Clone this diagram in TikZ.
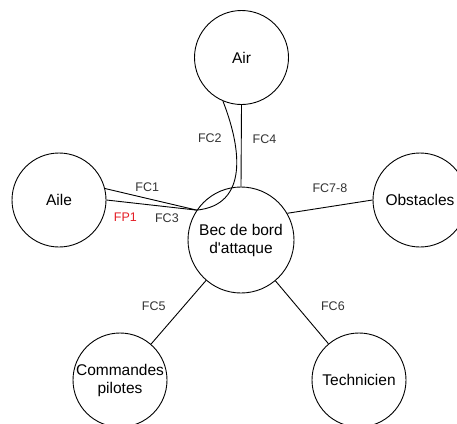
\documentclass[tikz,border=0pt]{standalone}
\usepackage{fontspec}
\newfontfamily\arialfont{Liberation Sans}
\definecolor{fpred}{RGB}{228,30,38}
\begin{document}
\begin{tikzpicture}[x=1pt, y=-1pt, font=\arialfont\fontsize{15.5}{18}\selectfont, line width=0.9pt,
    elem/.style={draw, circle, minimum size=94pt, inner sep=0pt, align=center},
    fc/.style={font=\arialfont\fontsize{12.5}{14}\selectfont, text=black!80, inner sep=1pt}]
    \useasboundingbox (0, 0) rectangle (457, 423);

    \node (air) [elem] at (241.5, 57.5) {Air};
    \node (aile) [elem] at (59, 200) {Aile};
    \node (bec) [elem, minimum size=106pt] at (241, 240) {Bec de bord\\d'attaque};
    \node (obst) [elem] at (420, 200) {Obstacles};
    \node (cmd) [elem] at (120, 380) {Commandes\\pilotes};
    \node (tech) [elem] at (359, 380) {Technicien};

    \coordinate (j) at (bec.146);

    \draw (aile.14) -- (j) node[fc, pos=0.46, above=5pt] {FC1};
    \draw (aile.east) -- (j) node[fc, pos=0.21, below=9pt, text=fpred] {FP1}
        node[fc, pos=0.67, below=6pt] {FC3};
    \draw (air.-113) .. controls (242, 150) and (248, 205) .. (j)
        node[fc, pos=0.25, left=11pt] {FC2};
    \draw (air.south) -- (bec.north) node[fc, pos=0.42, right=10pt] {FC4};
    \draw (bec.30) -- (obst.west) node[fc, midway, above=13pt] {FC7-8};
    \draw (bec) -- (cmd) node[fc, pos=0.4, left=17pt] {FC5};
    \draw (bec) -- (tech) node[fc, pos=0.4, right=23pt] {FC6};
\end{tikzpicture}
\end{document}
